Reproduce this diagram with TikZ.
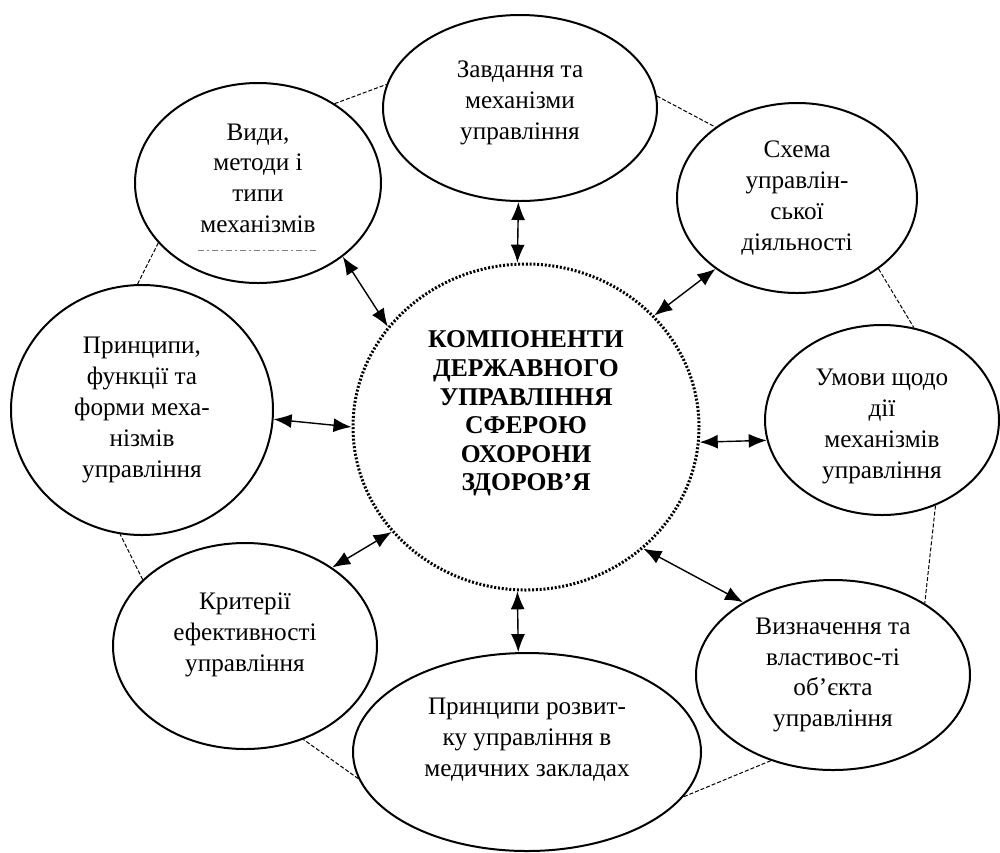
\documentclass[tikz,border=0pt]{standalone}
\usepackage{fontspec}
\setmainfont{Liberation Serif}
\usetikzlibrary{shapes.geometric,arrows.meta}

\tikzstyle{part} = [align=center, draw, ellipse, line width=1pt, inner sep=0pt, font=\fontsize{12.6}{15.4}\selectfont]
\tikzstyle{core} = [align=center, draw, ellipse, line width=1.5pt, dash pattern=on 1pt off 0.9pt, inner sep=0pt, text depth=16pt, font=\bfseries\fontsize{12.8}{14.3}\selectfont]
\tikzstyle{link} = [<->, line width=0.7pt]
\tikzstyle{ring} = [line width=0.5pt, dash pattern=on 2pt off 1pt]

\begin{document}
\begin{tikzpicture}[x=0.5pt,y=-0.5pt,>={Latex[length=9pt,width=7pt]}]
            \useasboundingbox (0,0) rectangle (1000,852);
            %
            % The centre and the eight parts round it
            \node [core, minimum width=173pt, minimum height=163pt] (core) at (526,427)
                {КОМПОНЕНТИ\\ДЕРЖАВНОГО\\УПРАВЛІННЯ\\СФЕРОЮ\\ОХОРОНИ\\ЗДОРОВ’Я};
            \node [part, minimum width=137pt, minimum height=93pt, text depth=8pt] (zavd) at (520,108)
                {Завдання та\\механізми\\управління};
            \node [part, minimum width=120pt, minimum height=95pt] (schema) at (797,198)
                {Схема\\управлін-\\ської\\діяльності};
            \node [part, minimum width=117pt, minimum height=95pt, text height=61pt] (umovy) at (882,420)
                {Умови щодо\\дії\\механізмів\\управління};
            \node [part, minimum width=137pt, minimum height=95pt] (vyzn) at (833,675)
                {Визначення та\\властивос-ті\\об’єкта\\управління};
            \node [part, minimum width=174pt, minimum height=99pt, text depth=14.5pt] (rozv) at (527,752)
                {Принципи розвит-\\ку управління в\\медичних закладах};
            \node [part, minimum width=132pt, minimum height=103pt, text depth=14pt] (kryt) at (245,646)
                {Критерії\\ефективності\\управління};
            \node [part, minimum width=131pt, minimum height=125pt] (pryn) at (142,410)
                {Принципи,\\функції та\\форми меха-\\нізмів\\управління};
            \node [part, minimum width=123pt, minimum height=100pt, text depth=5pt] (vydy) at (258,183)
                {Види,\\методи і\\типи\\механізмів};
            \draw [gray, line width=0.4pt, dash pattern=on 3pt off 1.5pt on 1pt off 1.5pt] (198,250) -- (318,250);
            %
            % Dashed ring from part to part
            \draw [ring] (vydy.46) -- (zavd.170);
            \draw [ring] (zavd.5) -- (schema.139);
            \draw [ring] (schema.-41) -- (umovy.71);
            \draw [ring] (umovy.-58) -- (vyzn.38);
            \draw [ring] (vyzn.-126) -- (rozv.-16);
            \draw [ring] (rozv.189) -- (kryt.-58);
            \draw [ring] (kryt.147) -- (pryn.-100);
            \draw [ring] (pryn.92) -- (vydy.211);
            %
            % Arrows between the centre and each part
            \draw [link] (vydy.-41) -- (core.144.5);
            \draw [link] (zavd.-91) -- (core.93);
            \draw [link] (schema.-139) -- (core.41.6);
            \draw [link] (umovy.190.7) -- (core.-5);
            \draw [link] (vyzn.141) -- (core.-46);
            \draw [link] (rozv.95) -- (core.-93);
            \draw [link] (kryt.42) -- (core.-142.9);
            \draw [link] (pryn.-4) -- (core.180.7);
            %
        \end{tikzpicture}
\end{document}
